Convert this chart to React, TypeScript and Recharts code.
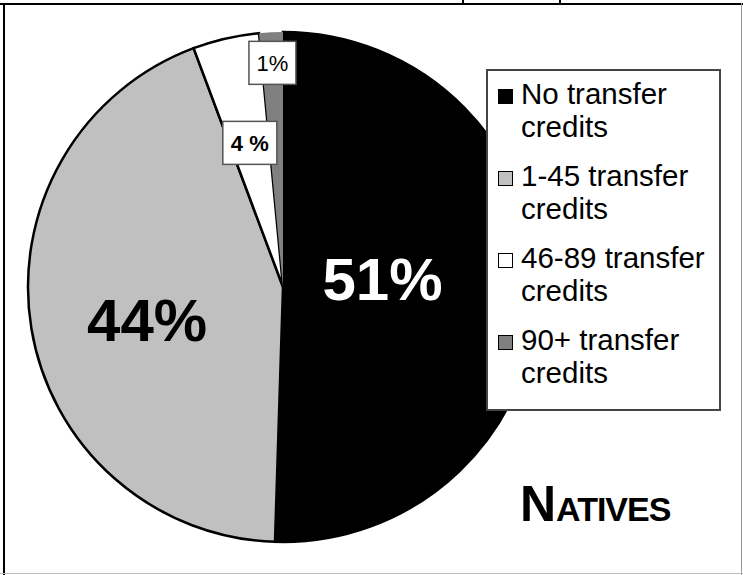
import { Cell, Pie, PieChart } from "recharts";

const categories = ["No transfer credits", "1-45 transfer credits", "46-89 transfer credits", "90+ transfer credits"];
const legendLines = [
  ["No transfer", "credits"],
  ["1-45 transfer", "credits"],
  ["46-89 transfer", "credits"],
  ["90+ transfer", "credits"],
];
const shares = [50.5, 43.8, 4.2, 1.5];
const shareLabels = ["51%", "44%", "4 %", "1%"];

const fills = ["#000000", "#c0c0c0", "#ffffff", "#808080"];
const strokes = ["#000000", "#000000", "#000000", "none"];
const FONT = "'Liberation Sans', Arial, sans-serif";

const data = categories.map((name, i) => ({ name, value: shares[i] }));

const RAD = Math.PI / 180;
// label placement per slice: fraction of radius, vertical nudge
const labelPos = [
  { r: 0.39, dy: -9 },
  { r: 0.54, dy: 11 },
  { r: 0.58, dy: 0 },
  { r: 0.88, dy: 0 },
];

function renderLabel(props: any) {
  const { cx, cy, midAngle, outerRadius, index } = props;
  const p = labelPos[index];
  const x = cx + outerRadius * p.r * Math.cos(-midAngle * RAD);
  const y = cy + outerRadius * p.r * Math.sin(-midAngle * RAD) + p.dy;
  const text = shareLabels[index];
  if (index < 2) {
    return (
      <text x={x} y={y} fill={index === 0 ? "#fff" : "#000"} fontFamily={FONT} fontWeight="bold" fontSize={60}
        textAnchor="middle" dominantBaseline="central">
        {text}
      </text>
    );
  }
  const w = index === 2 ? 54 : 47;
  const h = 43;
  return (
    <g>
      <rect x={x - w / 2} y={y - h / 2} width={w} height={h} fill="#fff" stroke="#555" strokeWidth={1.5} />
      <text x={x} y={y + 1} fill="#000" fontFamily={FONT} fontWeight={index === 2 ? "bold" : "normal"} fontSize={22}
        textAnchor="middle" dominantBaseline="central">
        {text}
      </text>
    </g>
  );
}

export default function App() {
  return (
    <div style={{ position: "absolute", left: 0, top: 0, width: 743, height: 575, background: "#fff", fontFamily: FONT, overflow: "hidden" }}>
      <PieChart width={743} height={575} margin={{ top: 0, right: 0, bottom: 0, left: 0 }}>
        <Pie
          data={data}
          dataKey="value"
          nameKey="name"
          cx={283}
          cy={287}
          outerRadius={255}
          startAngle={90}
          endAngle={-270}
          label={renderLabel}
          labelLine={false}
          isAnimationActive={false}
        >
          {data.map((d, i) => (
            <Cell key={d.name} fill={fills[i]} stroke={strokes[i]} strokeWidth={2.5} />
          ))}
        </Pie>
      </PieChart>

      {/* frame */}
      <div style={{ position: "absolute", left: 0, top: 3, width: 743, height: 2, background: "#000" }} />
      <div style={{ position: "absolute", left: 3, top: 3, width: 2, height: 572, background: "#000" }} />
      <div style={{ position: "absolute", left: 741, top: 3, width: 1, height: 572, background: "#999" }} />
      <div style={{ position: "absolute", left: 0, top: 573, width: 743, height: 1, background: "#bbb" }} />
      <div style={{ position: "absolute", left: 462, top: 0, width: 95, height: 4, borderLeft: "2px solid #000", borderRight: "2px solid #000" }} />

      {/* legend */}
      <div style={{ position: "absolute", left: 486, top: 69, width: 231, height: 332, border: "2px solid #444", background: "#fff", paddingTop: 6, boxSizing: "content-box" }}>
        {legendLines.map((lines, i) => (
          <div key={i} style={{ position: "relative", height: 66, marginBottom: 16 }}>
            <div style={{ position: "absolute", left: 10, top: 12, width: 13, height: 13, background: fills[i], border: "1px solid #000" }} />
            <div style={{ position: "absolute", left: 33, top: 0, fontSize: 29.5, lineHeight: "33px", color: "#000", whiteSpace: "nowrap" }}>
              {lines[0]}
              <br />
              {lines[1]}
            </div>
          </div>
        ))}
      </div>

      {/* title */}
      <div style={{ position: "absolute", left: 520, top: 476, fontWeight: "bold", color: "#000", whiteSpace: "nowrap", lineHeight: "56px" }}>
        <span style={{ fontSize: 50 }}>N</span>
        <span style={{ fontSize: 34, letterSpacing: -1 }}>ATIVES</span>
      </div>
    </div>
  );
}
